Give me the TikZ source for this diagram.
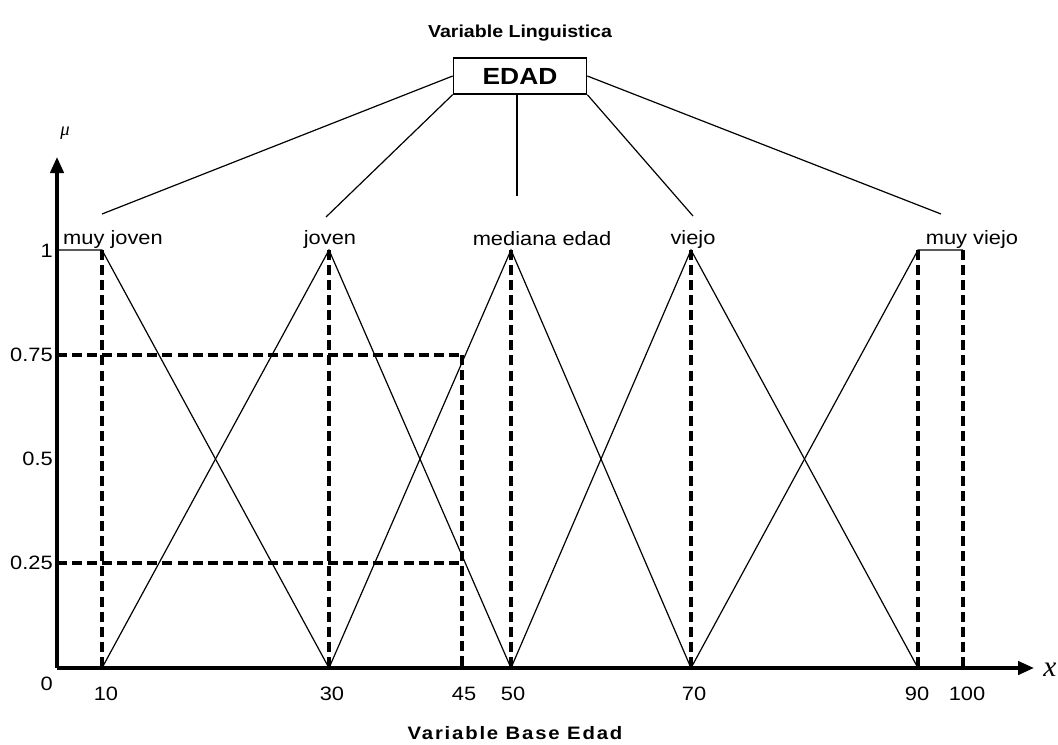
\documentclass[tikz,border=0pt]{standalone}
\usepackage{fontspec}
\setmainfont{Liberation Sans}[FakeStretch=1.13]
\newfontfamily\greekfont{Liberation Serif}
\usetikzlibrary{arrows.meta, positioning}

\tikzset{
  axis/.style={line width=2.6pt, -{Triangle[length=12pt, width=10pt]}},
  memb/.style={line width=0.9pt},
  guide/.style={line width=2.6pt, dash pattern=on 7.5pt off 3.8pt},
  link/.style={line width=0.9pt},
  lbl/.style={font=\fontsize{14.5}{17}\selectfont, inner sep=0pt},
  tick/.style={font=\fontsize{14.5}{17}\selectfont, inner sep=0pt},
}

\begin{document}
\begin{tikzpicture}[x=0.75pt, y=-0.75pt]
    \useasboundingbox (0,0) rectangle (1058,744);

    % Title and linguistic variable
    \node[font=\fontsize{13}{15}\selectfont\bfseries] (title) at (520,33) {Variable Linguistica};
    \node[draw, line width=1pt, font=\fontsize{17.5}{20}\selectfont\bfseries,
          minimum width=100pt, minimum height=27pt, inner sep=0pt] (edad) at (520,76) {EDAD};

    % Axes
    \draw[axis] (57,668) -- (57,157);
    \draw[axis] (57,668) -- (1034,668);
    \node[font=\fontsize{14}{16}\selectfont\greekfont\itshape] (mu) at (65,133) {μ};
    \node[font=\fontsize{22}{24}\selectfont\greekfont\itshape] (xlab) at (1050,670) {x};

    % Y tick labels
    \foreach \v/\y in {1/251, 0.75/355, 0.5/459, 0.25/563, 0/684} {
        \node[tick, anchor=east] at (53,\y) {\v};
    }

    % X tick labels
    \foreach \v/\x in {10/106, 30/332, 45/464, 50/513, 70/694, 90/917, 100/967} {
        \node[tick] at (\x,694) {\v};
    }
    \node[font=\fontsize{13.5}{16}\selectfont\bfseries\addfontfeature{LetterSpace=10}] (base) at (515,733) {Variable Base Edad};

    % Term labels
    \node[lbl] (mj) at (113,239) {muy joven};
    \node[lbl] (jo) at (330,239) {joven};
    \node[lbl] (me) at (542,239) {mediana edad};
    \node[lbl] (vi) at (693,239) {viejo};
    \node[lbl] (mv) at (972,239) {muy viejo};

    % Free ends of the links
    \coordinate (mjend) at (102,214);
    \coordinate (joend) at (326,217);
    \coordinate (meend) at (517,196);
    \coordinate (viend) at (693,216);
    \coordinate (mvend) at (941,214);

    % Links from the variable to its terms
    \draw[link] (edad.west) -- (mjend);
    \draw[link] (edad.south west) -- (joend);
    \draw[link] (edad.south -| meend) -- (meend);
    \draw[link] (edad.south east) -- (viend);
    \draw[link] (edad.east) -- (mvend);

    % Dashed guides
    \foreach \x in {102, 329, 511, 691, 918, 963} {
        \draw[guide] (\x,250) -- (\x,668);
    }
    \draw[guide] (462,355) -- (462,668);
    \draw[guide] (57,355) -- (462,355);
    \draw[guide] (57,563) -- (462,563);

    % Membership functions
    \draw[memb] (57,250) -- (102,250) -- (329,668);
    \draw[memb] (102,668) -- (329,250) -- (511,668);
    \draw[memb] (329,668) -- (511,250) -- (691,668);
    \draw[memb] (511,668) -- (691,250) -- (918,668);
    \draw[memb] (691,668) -- (918,250) -- (963,250);
\end{tikzpicture}
\end{document}
